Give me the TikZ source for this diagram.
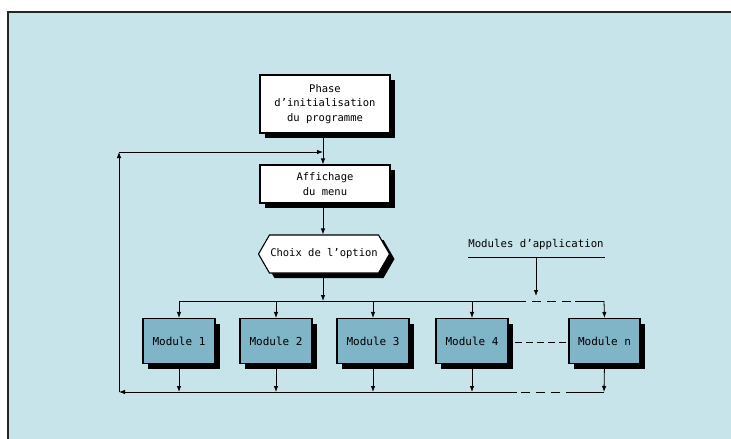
\documentclass[tikz,border=0pt]{standalone}
\usepackage{fontspec}
\setmainfont{DejaVu Sans Mono}
\usetikzlibrary{arrows.meta,shadows,shapes.symbols}
\definecolor{bgblue}{RGB}{199,228,235}
\definecolor{modblue}{RGB}{128,180,199}
\begin{document}
\begin{tikzpicture}[x=1pt,y=-1pt,
  conn/.style={line width=0.8pt},
  arr/.style={line width=0.8pt,-{Latex[length=6pt,width=4.5pt]}},
  dsh/.style={line width=0.8pt,dash pattern=on 9pt off 6pt},
  shad/.style={drop shadow={shadow xshift=5pt,shadow yshift=-5pt,opacity=1,fill=black}},
  whitebox/.style={draw,line width=1.1pt,fill=white,shad,minimum width=130pt,align=center,font=\fontsize{10.5}{14.5}\selectfont,inner sep=0pt},
  modbox/.style={draw,line width=1.1pt,fill=modblue,shad,minimum width=72pt,minimum height=45pt,font=\fontsize{11}{12}\selectfont,inner sep=0pt},
  hexa/.style={draw,line width=1.1pt,fill=white,shad,signal,signal to=west and east,signal pointer angle=120,minimum width=131pt,minimum height=38pt,font=\fontsize{10.5}{12}\selectfont,inner sep=0pt},
  lbl/.style={font=\fontsize{10.7}{12}\selectfont,inner sep=0pt}
]
\useasboundingbox (0,0) rectangle (731,439);
\fill[white] (0,0) rectangle (731,439);
\fill[bgblue] (8,12) rectangle (731,439);
\draw[line width=1.6pt,black!85] (8,439) -- (8,12) -- (731,12);

\node[whitebox,minimum height=58pt] (phase) at (325,104) {Phase\\d'initialisation\\du programme};
\node[whitebox,minimum height=38pt] (aff) at (325,184) {Affichage\\du menu};
\node[hexa] (choix) at (324,254) {Choix de l'option};

\node[modbox] (m1) at (179,341) {Module 1};
\node[modbox] (m2) at (276,341) {Module 2};
\node[modbox] (m3) at (373,341) {Module 3};
\node[modbox] (m4) at (472,341) {Module 4};
\node[modbox,minimum width=71pt] (mn) at (604.5,341) {Module n};

\node[lbl] (app) at (536,245) {Modules d'application};
\coordinate (ulL) at (468,257);
\coordinate (ulR) at (605,257);
\coordinate (ulM) at (536,257);
\coordinate (appTip) at (536,296);

% bus coordinates
\coordinate (tb1) at (179,301);
\coordinate (tb2) at (276,301);
\coordinate (tb3) at (373,301);
\coordinate (tb4) at (472,301);
\coordinate (tbc) at (323,301);
\coordinate (tbd1) at (517,301);
\coordinate (tbd2) at (575,301);
\coordinate (tbn) at (604,301);
\coordinate (bb1) at (179,392);
\coordinate (bb2) at (276,392);
\coordinate (bb3) at (373,392);
\coordinate (bb4) at (472,392);
\coordinate (bbd1) at (517,392);
\coordinate (bbd2) at (575,392);
\coordinate (bbn) at (604,392);
\coordinate (bbL) at (119,392);
\coordinate (tlL) at (119,152);
\coordinate (tlR) at (323,152);

% top chain
\draw[arr] (phase.south -| tlR) -- (aff.north -| tlR);
\draw[arr] (aff.south -| tlR) -- (choix.north -| tlR);
\draw[arr] (choix.south -| tbc) -- (tbc);

% top bus
\draw[conn] (tb1) -- (tbd1);
\draw[dsh] (tbd1) -- (tbd2);
\draw[conn] (tbd2) -- (tbn);
\foreach \i in {1,2,3,4} {\draw[arr] (tb\i) -- (m\i.north);}
\draw[arr] (tbn) -- (mn.north);

% label
\draw[conn] (ulL) -- (ulR);
\draw[arr] (ulM) -- (appTip);

% dashed between module 4 and n
\draw[dsh,dash pattern=on 7pt off 4pt] (m4.east) ++(6,1) -- ([yshift=-1pt]mn.west);

% bottom
\foreach \i in {1,2,3,4} {\draw[arr] (m\i.south) -- (bb\i);}
\draw[arr] (mn.south) -- (bbn);
\draw[conn] (bbn) -- (bbd2);
\draw[dsh] (bbd2) -- (bbd1);
\draw[arr] (bbd1) -- (bbL);
\draw[arr] (bbL) -- (tlL);
\draw[arr] (tlL) -- (tlR);
\end{tikzpicture}
\end{document}
